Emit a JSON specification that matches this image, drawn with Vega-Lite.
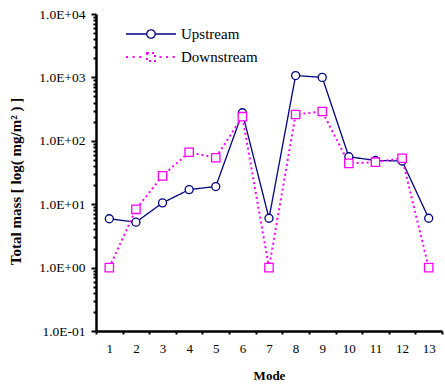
{
  "$schema": "https://vega.github.io/schema/vega-lite/v6.json",
  "autosize": "none",
  "width": 346,
  "height": 317,
  "padding": {"left": 96, "top": 14, "right": 3, "bottom": 54},
  "background": "white",
  "config": {
    "view": {"stroke": null},
    "font": "Liberation Serif"
  },
  "data": {
    "values": [
      {"mode": 1, "series": "Upstream", "value": 5.9},
      {"mode": 2, "series": "Upstream", "value": 5.2},
      {"mode": 3, "series": "Upstream", "value": 10.5},
      {"mode": 4, "series": "Upstream", "value": 17},
      {"mode": 5, "series": "Upstream", "value": 19},
      {"mode": 6, "series": "Upstream", "value": 277},
      {"mode": 7, "series": "Upstream", "value": 6.0},
      {"mode": 8, "series": "Upstream", "value": 1070},
      {"mode": 9, "series": "Upstream", "value": 1000},
      {"mode": 10, "series": "Upstream", "value": 56},
      {"mode": 11, "series": "Upstream", "value": 49},
      {"mode": 12, "series": "Upstream", "value": 48},
      {"mode": 13, "series": "Upstream", "value": 6.0},
      {"mode": 1, "series": "Downstream", "value": 1.0},
      {"mode": 2, "series": "Downstream", "value": 8.3},
      {"mode": 3, "series": "Downstream", "value": 28},
      {"mode": 4, "series": "Downstream", "value": 66},
      {"mode": 5, "series": "Downstream", "value": 54},
      {"mode": 6, "series": "Downstream", "value": 240},
      {"mode": 7, "series": "Downstream", "value": 1.0},
      {"mode": 8, "series": "Downstream", "value": 260},
      {"mode": 9, "series": "Downstream", "value": 290},
      {"mode": 10, "series": "Downstream", "value": 44},
      {"mode": 11, "series": "Downstream", "value": 46},
      {"mode": 12, "series": "Downstream", "value": 53},
      {"mode": 13, "series": "Downstream", "value": 1.0}
    ]
  },
  "encoding": {
    "x": {
      "field": "mode", "type": "ordinal",
      "scale": {"type": "band", "paddingInner": 0, "paddingOuter": 0},
      "axis": {
        "title": "Mode", "labelAngle": 0, "tickBand": "extent",
        "domainColor": "black", "domainWidth": 2.5, "tickColor": "black", "tickWidth": 2, "tickSize": 3,
        "labelFont": "Liberation Serif", "labelFontSize": 13, "labelColor": "black", "labelPadding": 8,
        "titleFont": "Liberation Serif", "titleFontSize": 13, "titleFontWeight": "bold", "titleColor": "black", "titlePadding": 14
      }
    },
    "y": {
      "field": "value", "type": "quantitative",
      "scale": {"type": "log", "domain": [0.1, 10000], "nice": false},
      "axis": {
        "title": "Total  mass [ log( mg/m² ) ]",
        "values": [0.1,0.2,0.3,0.4,0.5,0.6,0.7,0.8,0.9,1,2,3,4,5,6,7,8,9,10,20,30,40,50,60,70,80,90,100,200,300,400,500,600,700,800,900,1000,2000,3000,4000,5000,6000,7000,8000,9000,10000],
        "labelExpr": "abs(log(datum.value)/LN10 - round(log(datum.value)/LN10)) < 0.001 ? ('1.0E' + (round(log(datum.value)/LN10) < 0 ? '-' : '+') + '0' + abs(round(log(datum.value)/LN10))) : ''",
        "tickSize": {"condition": {"test": "abs(log(datum.value)/LN10 - round(log(datum.value)/LN10)) < 0.001", "value": 5}, "value": 3},
        "tickWidth": 2, "tickColor": "black",
        "domainColor": "black", "domainWidth": 2.5, "grid": false,
        "labelFont": "Liberation Serif", "labelFontSize": 13.5, "labelColor": "black", "labelPadding": 6, "labelOverlap": false,
        "titleFont": "Liberation Serif", "titleFontSize": 15, "titleFontWeight": "bold", "titleColor": "black", "titlePadding": 15,
        "titleY": 167
      }
    }
  },
  "layer": [
    {
      "mark": {"type": "line"},
      "encoding": {
        "color": {
          "field": "series", "type": "nominal",
          "scale": {"domain": ["Upstream", "Downstream"], "range": ["#000080", "#ff00ff"]},
          "legend": {
            "title": null, "orient": "none", "legendX": 44, "legendY": 9,
            "symbolSize": 400, "labelOffset": 19, "rowPadding": 4,
            "labelFont": "Liberation Serif", "labelFontSize": 15, "labelColor": "black",
            "encode": {
              "symbols": {
                "update": {
                  "shape": {"signal": "datum.value === 'Upstream' ? 'M-2.5,0L-0.42,0A0.42,0.42 0 1,1 0.42,0A0.42,0.42 0 1,1 -0.42,0M0.42,0L2.5,0' : 'M-2.5,0L-2.17,0M-1.84,0L-1.51,0M-1.18,0L-0.85,0M-0.4,-0.4L0.4,-0.4L0.4,0.4L-0.4,0.4ZM0.85,0L1.18,0M1.51,0L1.84,0M2.17,0L2.5,0'"},
                  "strokeDash": {"value": [1, 0]},
                  "strokeWidth": {"value": 1.5},
                  "fill": {"value": "transparent"}
                }
              }
            }
          }
        },
        "strokeDash": {
          "field": "series", "type": "nominal",
          "scale": {"domain": ["Upstream", "Downstream"], "range": [[1, 0], [2, 3]]},
          "legend": null
        },
        "strokeWidth": {
          "field": "series", "type": "nominal",
          "scale": {"domain": ["Upstream", "Downstream"], "range": [1.3, 2]},
          "legend": null
        }
      }
    },
    {
      "transform": [{"filter": "datum.series === 'Upstream'"}],
      "mark": {"type": "point", "shape": "circle", "size": 64, "filled": false, "fill": "white", "fillOpacity": 1, "stroke": "#000080", "strokeWidth": 1.3, "opacity": 1}
    },
    {
      "transform": [{"filter": "datum.series === 'Downstream'"}],
      "mark": {"type": "point", "shape": "square", "size": 70, "filled": false, "fill": "white", "fillOpacity": 1, "stroke": "#ff00ff", "strokeWidth": 1.3, "opacity": 1}
    }
  ]
}
